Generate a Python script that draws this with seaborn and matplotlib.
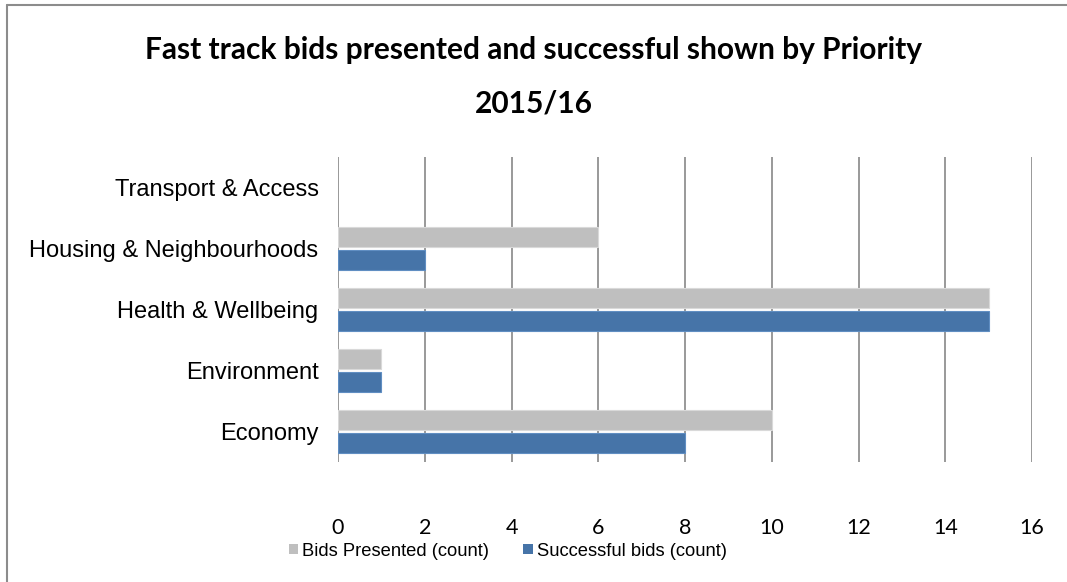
import pandas as pd
import matplotlib.pyplot as plt
import matplotlib as mpl
from matplotlib.lines import Line2D
from matplotlib.patches import Patch
import seaborn as sns
import numpy as np

priorities = ['Transport & Access', 'Housing & Neighbourhoods', 'Health & Wellbeing',
              'Environment', 'Economy']
presented = [np.nan, 6, 15, 1, 10]
successful = [np.nan, 2, 15, 1, 8]
series = ['Bids Presented (count)', 'Successful bids (count)']
ticks = [0, 2, 4, 6, 8, 10, 12, 14, 16]

sns.set_style("white")
mpl.rcParams['font.family'] = ['Liberation Sans', 'DejaVu Sans']
mpl.rcParams['text.color'] = 'black'
mpl.rcParams['xtick.color'] = 'black'
mpl.rcParams['ytick.color'] = 'black'

df = pd.DataFrame({'Priority': priorities * 2,
                   'Series': [series[0]] * 5 + [series[1]] * 5,
                   'Count': presented + successful})

fig = plt.figure(figsize=(10.67, 5.82), dpi=100)
ax = fig.add_axes([0.3168, 0.2062, 0.9672 - 0.3168, 0.7302 - 0.2062])

pal = {series[0]: '#BFBFBF', series[1]: '#4674A8'}
sns.barplot(data=df, x='Count', y='Priority', hue='Series', order=priorities,
            hue_order=series, palette=pal, orient='h', width=0.745,
            saturation=1, ax=ax, legend=False, zorder=3)
# leave a small gap between the two bars of a group
for bar in ax.patches:
    h = bar.get_height()
    new_h = h * 0.88
    bar.set_y(bar.get_y() + (h - new_h) / 2)
    bar.set_height(new_h)
    fc = bar.get_facecolor()
    bar.set_edgecolor(tuple(min(1, c + 0.1) for c in fc[:3]))
    bar.set_linewidth(0.8)

ax.set_xlim(0, 16)
ax.set_xticks(ticks)
ax.set_xticklabels([str(t) for t in ticks], fontfamily='Lato', fontsize=15.5)
ax.tick_params(axis='x', length=0, pad=40)
ax.tick_params(axis='y', length=0, pad=14, labelsize=17)
ax.set_xlabel('')
ax.set_ylabel('')
ax.grid(axis='x', color='#888888', linewidth=1.2, zorder=0)
ax.set_axisbelow(True)
sns.despine(ax=ax, left=True, bottom=True)

fig.text(0.5, 1 - 50 / 582, 'Fast track bids presented and successful shown by Priority',
         ha='center', va='center', fontfamily='Lato', fontweight='bold', fontsize=21.5)
fig.text(0.5, 1 - 103 / 582, '2015/16', ha='center', va='center',
         fontfamily='Lato', fontweight='bold', fontsize=21.5)

handles = [Patch(facecolor=pal[s], edgecolor='none') for s in series]
fig.legend(handles, series, loc='center', bbox_to_anchor=(0.476, 1 - 551 / 582),
           ncol=2, frameon=False, fontsize=13.2, handlelength=0.5, handleheight=0.5,
           handletextpad=0.25, columnspacing=1.85)

fig.add_artist(Line2D([7 / 1067, 7 / 1067], [0, 1 - 5 / 582], color='#8C8C8C', lw=1.5))
fig.add_artist(Line2D([7 / 1067, 1], [1 - 5 / 582, 1 - 5 / 582], color='#8C8C8C', lw=1.5))

fig.savefig('out.png', dpi=100)
